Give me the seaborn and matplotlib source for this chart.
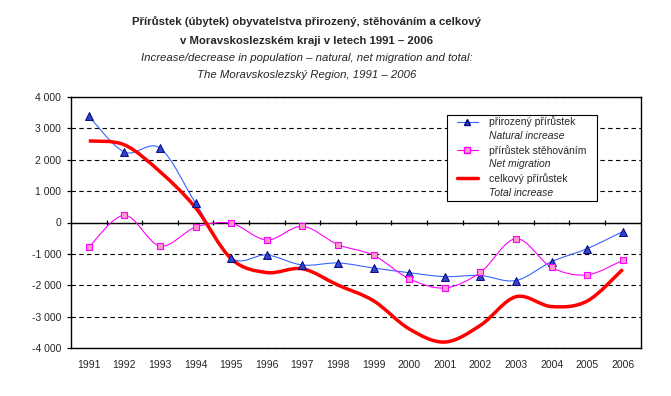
import numpy as np
import pandas as pd
import matplotlib
matplotlib.use("Agg")
import matplotlib.pyplot as plt
from matplotlib.path import Path
from matplotlib.patches import PathPatch, Rectangle
from matplotlib.lines import Line2D
from matplotlib.ticker import FuncFormatter, FixedLocator
import seaborn as sns

# data
years = [str(y) for y in range(1991, 2007)]
natural = [3390, 2245, 2370, 620, -1130, -1035, -1355, -1290,
           -1450, -1600, -1725, -1690, -1850, -1250, -835, -290]
migration = [-790, 230, -750, -150, -25, -560, -120, -705,
             -1045, -1790, -2085, -1590, -515, -1430, -1670, -1205]
total = [2600, 2475, 1620, 470, -1155, -1595, -1475, -1995,
         -2495, -3390, -3810, -3280, -2365, -2680, -2505, -1495]

df = pd.DataFrame({"pos": np.arange(len(years)), "year": years,
                   "natural": natural, "migration": migration, "total": total})

sns.set_style("white")
plt.rcParams["font.family"] = ["Liberation Sans", "DejaVu Sans"]

W, H = 671, 396
fig = plt.figure(figsize=(W / 100, H / 100), dpi=100)
ax = fig.add_axes([71 / W, 48 / H, (640.5 - 71) / W, (348 - 97) / H])


def smooth_path(x, y):
    # Bezier smoothing similar to the spreadsheet "smoothed line" option
    pts = np.column_stack([x, y]).astype(float)
    n = len(pts)
    verts = [pts[0]]
    codes = [Path.MOVETO]
    for i in range(n - 1):
        p0 = pts[max(i - 1, 0)]
        p1 = pts[i]
        p2 = pts[i + 1]
        p3 = pts[min(i + 2, n - 1)]
        verts += [p1 + (p2 - p0) / 6, p2 - (p3 - p1) / 6, p2]
        codes += [Path.CURVE4] * 3
    return Path(verts, codes)


# grid and zero axis
ax.set_ylim(-4000, 4000)
ax.set_xlim(-0.5, len(years) - 0.5)
ax.yaxis.set_major_locator(FixedLocator(range(-4000, 4001, 1000)))
ax.grid(axis="y", color="black", linestyle=(0, (4, 3)), linewidth=0.8)
ax.set_axisbelow(True)
ax.axhline(0, color="black", linewidth=1.0, zorder=2)
ax.vlines(df["pos"][:-1] + 0.5, -95, 95, color="black", linewidth=0.9, zorder=2)

# smoothed lines
ax.add_patch(PathPatch(smooth_path(df["pos"], df["natural"]), fill=False,
                       edgecolor="#3366FF", linewidth=0.8, zorder=3))
ax.add_patch(PathPatch(smooth_path(df["pos"], df["migration"]), fill=False,
                       edgecolor="#FF00FF", linewidth=0.8, zorder=3))
ax.add_patch(PathPatch(smooth_path(df["pos"], df["total"]), fill=False,
                       edgecolor="#FF0000", linewidth=2.5, zorder=4,
                       capstyle="butt"))

# markers
sns.scatterplot(data=df, x="pos", y="natural", marker="^", s=32,
                color="#3344CC", edgecolor="#000080", linewidth=0.7,
                ax=ax, zorder=5)
sns.scatterplot(data=df, x="pos", y="migration", marker="s", s=24,
                color="#FF99CC", edgecolor="#FF00FF", linewidth=0.8,
                ax=ax, zorder=5)

# axes cosmetics
for sp in ax.spines.values():
    sp.set_visible(True)
    sp.set_color("black")
    sp.set_linewidth(1.0)
ax.set_xticks(df["pos"])
ax.set_xticklabels(years)
ax.tick_params(axis="x", length=0, pad=9, labelsize=7.5)
ax.tick_params(axis="y", direction="out", length=3, width=0.9, pad=4,
               labelsize=7.5, left=True, color="black")
ax.yaxis.set_major_formatter(FuncFormatter(lambda v, p: f"{int(v):,}".replace(",", " ")))
ax.set_xlabel("")
ax.set_ylabel("")

# titles
cx = 307 / W
fig.text(cx, 1 - 22 / H, "Přírůstek (úbytek) obyvatelstva přirozený, stěhováním a celkový",
         ha="center", va="center", fontsize=8.2, fontweight="bold")
fig.text(cx, 1 - 41 / H, "v Moravskoslezském kraji v letech 1991 – 2006",
         ha="center", va="center", fontsize=8.2, fontweight="bold")
fig.text(cx, 1 - 58 / H, "Increase/decrease in population – natural, net migration and total:",
         ha="center", va="center", fontsize=8.2, fontstyle="italic")
fig.text(cx, 1 - 75 / H, "The Moravskoslezský Region, 1991 – 2006",
         ha="center", va="center", fontsize=8.2, fontstyle="italic")

# legend (frame drawn separately)
fig.patches.append(Rectangle((447 / W, 1 - 201 / H), 150 / W, 86 / H,
                             transform=fig.transFigure, facecolor="white",
                             edgecolor="black", linewidth=0.8, zorder=6))
blank = Line2D([], [], linestyle="none")
handles = [
    Line2D([], [], color="#3366FF", lw=0.8, marker="^", markersize=5,
           markerfacecolor="#3344CC", markeredgecolor="#000080"),
    blank,
    Line2D([], [], color="#FF00FF", lw=0.8, marker="s", markersize=4.5,
           markerfacecolor="#FF99CC", markeredgecolor="#FF00FF"),
    blank,
    Line2D([], [], color="#FF0000", lw=2.5),
    blank,
]
labels = ["přirozený přírůstek", "Natural increase",
          "přírůstek stěhováním", "Net migration",
          "celkový přírůstek", "Total increase"]
leg = fig.legend(handles, labels, loc="upper left",
                 bbox_to_anchor=(457 / W, 1 - 116.5 / H),
                 bbox_transform=fig.transFigure, borderaxespad=0,
                 fontsize=7.5, frameon=False, labelspacing=0.36,
                 handlelength=2.0, handletextpad=1.05, borderpad=0)
leg.set_zorder(7)
for i, t in enumerate(leg.get_texts()):
    if i % 2 == 1:
        t.set_fontstyle("italic")

fig.savefig("out.png", dpi=100)
